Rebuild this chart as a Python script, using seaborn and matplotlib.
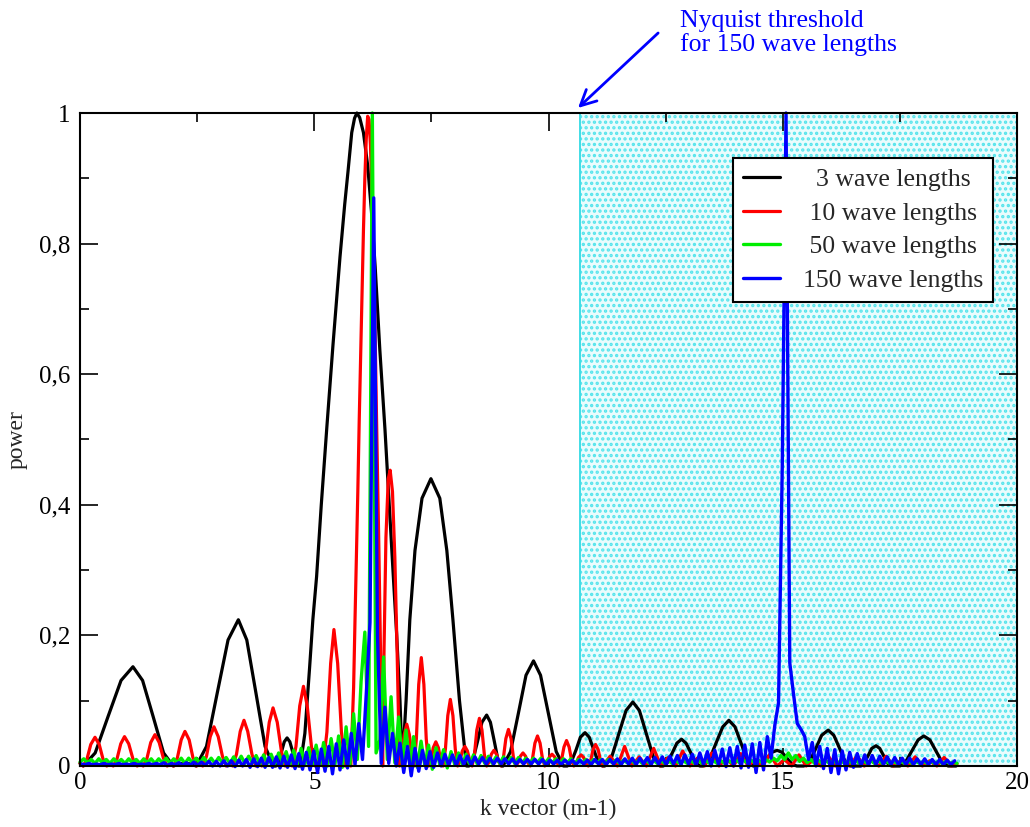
import numpy as np
import matplotlib
matplotlib.use("Agg")
import matplotlib.pyplot as plt
from matplotlib.ticker import MultipleLocator, FuncFormatter
import seaborn as sns

# ---------------- data ----------------
series_labels = ["  3 wave lengths", " 10 wave lengths", " 50 wave lengths", "150 wave lengths"]
x_ticks = [0, 5, 10, 15, 20]
y_ticks = [0, 0.2, 0.4, 0.6, 0.8, 1.0]
nyquist_k = 10.67

black_k = [0.00, 0.07, 0.324, 0.60, 0.876, 1.13, 1.336, 1.56, 1.784, 1.99,
           2.10, 2.25, 2.40,
           2.48, 2.70, 2.93, 3.16, 3.38, 3.56, 3.755, 3.95, 4.13,
           4.18, 4.24, 4.30, 4.36, 4.42, 4.48, 4.54, 4.60, 4.66,
           4.70, 4.80, 4.90, 4.97, 5.05, 5.15, 5.27, 5.40, 5.55, 5.65, 5.72, 5.80, 5.86, 5.91,
           5.97, 6.05, 6.14, 6.22, 6.30, 6.40, 6.51, 6.60, 6.68, 6.76, 6.83, 6.88,
           6.96, 7.04, 7.15, 7.30, 7.49, 7.68, 7.83, 7.96, 8.10, 8.25,
           8.30, 8.39, 8.49, 8.58, 8.68, 8.76, 8.84, 8.92, 9.00,
           9.03, 9.19, 9.355, 9.52, 9.68, 9.83, 10.00, 10.165, 10.32,
           10.40, 10.49, 10.59, 10.68, 10.78, 10.87, 10.965, 11.06, 11.15,
           11.20, 11.345, 11.50, 11.655, 11.80, 11.94, 12.09, 12.24, 12.38,
           12.45, 12.54, 12.645, 12.74, 12.84, 12.935, 13.035, 13.13, 13.23,
           13.30, 13.43, 13.575, 13.72, 13.85, 13.98, 14.11, 14.24, 14.37,
           14.45, 14.55, 14.665, 14.77, 14.88, 14.985, 15.09, 15.195, 15.30,
           15.45, 15.575, 15.71, 15.83, 15.97, 16.09, 16.21, 16.33, 16.45,
           16.65, 16.73, 16.82, 16.90, 16.99, 17.07, 17.155, 17.24, 17.32,
           17.50, 17.62, 17.755, 17.89, 18.01, 18.14, 18.27, 18.40, 18.53,
           18.70]
black_power = [0.004, 0.0, 0.020, 0.076, 0.131, 0.152, 0.131, 0.076, 0.020, 0.0,
               0.003, 0.005, 0.002,
               0.0, 0.030, 0.112, 0.193, 0.224, 0.193, 0.112, 0.030, 0.0,
               0.0, 0.006, 0.0215, 0.037, 0.043, 0.037, 0.0215, 0.006, 0.0,
               0.0, 0.050, 0.150, 0.224, 0.290, 0.400, 0.520, 0.645, 0.780, 0.860, 0.910, 0.970, 0.992, 1.0,
               0.993, 0.970, 0.920, 0.850, 0.765, 0.637, 0.515, 0.400, 0.300, 0.200, 0.100, 0.0,
               0.100, 0.224, 0.330, 0.410, 0.440, 0.410, 0.330, 0.224, 0.100, 0.0,
               0.0, 0.010, 0.039, 0.067, 0.078, 0.067, 0.039, 0.010, 0.0,
               0.0, 0.022, 0.080, 0.139, 0.161, 0.139, 0.080, 0.022, 0.0,
               0.0, 0.007, 0.025, 0.044, 0.051, 0.044, 0.025, 0.007, 0.0,
               0.0, 0.013, 0.049, 0.085, 0.098, 0.085, 0.049, 0.013, 0.0,
               0.0, 0.0055, 0.0205, 0.035, 0.041, 0.035, 0.0205, 0.0055, 0.0,
               0.0, 0.009, 0.035, 0.060, 0.070, 0.060, 0.035, 0.009, 0.0,
               0.0, 0.003, 0.012, 0.021, 0.024, 0.021, 0.012, 0.003, 0.0,
               0.0, 0.007, 0.0275, 0.047, 0.055, 0.047, 0.0275, 0.007, 0.0,
               0.0, 0.004, 0.0155, 0.027, 0.031, 0.027, 0.0155, 0.004, 0.0,
               0.0, 0.006, 0.023, 0.040, 0.046, 0.040, 0.023, 0.006, 0.0,
               0.0]

red_k = [0.00, 0.07, 0.15, 0.23, 0.32, 0.41, 0.49, 0.57, 0.64,
         0.71, 0.79, 0.87, 0.95, 1.04, 1.13, 1.22, 1.28,
         1.35, 1.43, 1.51, 1.60, 1.69, 1.78, 1.86, 1.93,
         2.00, 2.08, 2.16, 2.24, 2.33, 2.41, 2.49, 2.55,
         2.62, 2.70, 2.78, 2.86, 2.95, 3.04, 3.12, 3.19,
         3.26, 3.34, 3.42, 3.50, 3.58, 3.67, 3.75, 3.82,
         3.88, 3.96, 4.04, 4.12, 4.21, 4.30, 4.38, 4.45,
         4.53, 4.61, 4.69, 4.77, 4.85, 4.94, 5.02, 5.10,
         5.19, 5.27, 5.35, 5.42, 5.50, 5.58, 5.66, 5.72,
         5.78, 5.84, 5.87, 5.93, 5.96, 6.00, 6.05, 6.08, 6.11, 6.14, 6.17, 6.20, 6.24, 6.29, 6.33,
         6.38, 6.42, 6.46,
         6.49, 6.53, 6.58, 6.62, 6.67, 6.72, 6.77, 6.82,
         6.87, 6.92, 6.975, 7.03, 7.08, 7.13,
         7.18, 7.23, 7.285, 7.34, 7.39, 7.44,
         7.49, 7.54, 7.595, 7.65, 7.70, 7.75,
         7.80, 7.85, 7.905, 7.96, 8.01, 8.06,
         8.11, 8.16, 8.215, 8.27, 8.32, 8.37,
         8.42, 8.47, 8.525, 8.58, 8.63, 8.68,
         8.73, 8.78, 8.835, 8.89, 8.94, 8.99,
         9.04, 9.09, 9.145, 9.20, 9.25, 9.30,
         9.35, 9.40, 9.455, 9.51, 9.56, 9.61,
         9.66, 9.71, 9.765, 9.82, 9.87, 9.92,
         9.97, 10.02, 10.075, 10.13, 10.18, 10.23,
         10.28, 10.33, 10.385, 10.44, 10.49, 10.54,
         10.59, 10.64, 10.695, 10.75, 10.80, 10.85,
         10.90, 10.95, 11.005, 11.06, 11.11, 11.16,
         11.24, 11.315, 11.39, 11.47,
         11.55, 11.625, 11.70, 11.78,
         11.86, 11.935, 12.01, 12.09,
         12.17, 12.245, 12.32, 12.40,
         12.48, 12.555, 12.63, 12.71,
         12.79, 12.865, 12.94, 13.02,
         13.10, 13.175, 13.25, 13.33,
         13.41, 13.485, 13.56, 13.64,
         13.72, 13.795, 13.87, 13.95,
         14.03, 14.105, 14.18, 14.26,
         14.34, 14.415, 14.49, 14.57,
         14.65, 14.725, 14.80, 14.88,
         14.96, 15.035, 15.11, 15.19,
         15.27, 15.345, 15.42, 15.50,
         15.58, 15.655, 15.73, 15.81,
         15.89, 15.965, 16.04, 16.12,
         16.20, 16.275, 16.35, 16.43,
         16.51, 16.585, 16.66, 16.74,
         16.82, 16.895, 16.97, 17.05,
         17.13, 17.205, 17.28, 17.36,
         17.44, 17.515, 17.59, 17.67,
         17.75, 17.825, 17.90, 17.98,
         18.06, 18.135, 18.21, 18.29,
         18.37, 18.445, 18.52, 18.60,
         18.68, 18.72]
red_power = [0.004, 0.0, 0.011, 0.033, 0.044, 0.033, 0.011, 0.0, 0.003,
             0.0, 0.011, 0.034, 0.045, 0.034, 0.011, 0.0, 0.003,
             0.0, 0.012, 0.036, 0.048, 0.036, 0.012, 0.0, 0.003,
             0.0, 0.013, 0.040, 0.053, 0.040, 0.013, 0.0, 0.004,
             0.0, 0.015, 0.045, 0.060, 0.045, 0.015, 0.0, 0.004,
             0.0, 0.018, 0.053, 0.070, 0.053, 0.018, 0.0, 0.005,
             0.0, 0.022, 0.067, 0.089, 0.067, 0.022, 0.0, 0.006,
             0.0, 0.030, 0.092, 0.122, 0.092, 0.030, 0.0, 0.008,
             0.0, 0.052, 0.157, 0.209, 0.157, 0.052, 0.0, 0.010,
             0.0, 0.120, 0.224, 0.420, 0.530, 0.660, 0.820, 0.900, 0.960, 0.995, 0.990, 0.950, 0.850, 0.700, 0.530,
             0.330, 0.150, 0.0,
             0.180, 0.350, 0.440, 0.453, 0.420, 0.320, 0.170, 0.0,
             0.016, 0.048, 0.064, 0.048, 0.016, 0.0,
             0.042, 0.125, 0.166, 0.125, 0.042, 0.0,
             0.009, 0.028, 0.037, 0.028, 0.009, 0.0,
             0.026, 0.077, 0.102, 0.077, 0.026, 0.0,
             0.008, 0.023, 0.030, 0.023, 0.008, 0.0,
             0.018, 0.055, 0.073, 0.055, 0.018, 0.0,
             0.006, 0.018, 0.024, 0.018, 0.006, 0.0,
             0.014, 0.042, 0.056, 0.042, 0.014, 0.0,
             0.005, 0.015, 0.020, 0.015, 0.005, 0.0,
             0.012, 0.035, 0.046, 0.035, 0.012, 0.0,
             0.005, 0.014, 0.018, 0.014, 0.005, 0.0,
             0.010, 0.029, 0.039, 0.029, 0.010, 0.0,
             0.004, 0.013, 0.017, 0.013, 0.004, 0.0,
             0.008, 0.025, 0.033, 0.025, 0.008, 0.0,
             0.008, 0.015, 0.008, 0.0,
             0.015, 0.030, 0.015, 0.0,
             0.007, 0.014, 0.007, 0.0,
             0.014, 0.027, 0.014, 0.0,
             0.007, 0.013, 0.007, 0.0,
             0.012, 0.023, 0.012, 0.0,
             0.006, 0.012, 0.006, 0.0,
             0.010, 0.020, 0.010, 0.0,
             0.006, 0.011, 0.006, 0.0,
             0.010, 0.019, 0.010, 0.0,
             0.005, 0.010, 0.005, 0.0,
             0.009, 0.018, 0.009, 0.0,
             0.005, 0.010, 0.005, 0.0,
             0.009, 0.017, 0.009, 0.0,
             0.005, 0.009, 0.005, 0.0,
             0.008, 0.016, 0.008, 0.0,
             0.005, 0.009, 0.005, 0.0,
             0.008, 0.016, 0.008, 0.0,
             0.004, 0.008, 0.004, 0.0,
             0.008, 0.015, 0.008, 0.0,
             0.004, 0.008, 0.004, 0.0,
             0.007, 0.014, 0.007, 0.0,
             0.004, 0.008, 0.004, 0.0,
             0.007, 0.013, 0.007, 0.0,
             0.004, 0.003]

# 50 and 150 wave lengths: sampled on a regular k grid
green_k0, green_dk = 0.0, 0.08
green_power = [0.006, 0.011, 0.005, 0.010, 0.004, 0.011, 0.005, 0.010, 0.004, 0.011,
               0.005, 0.010, 0.004, 0.011, 0.005, 0.010, 0.004, 0.011, 0.005, 0.011,
               0.004, 0.011, 0.005, 0.012, 0.004, 0.011, 0.005, 0.012, 0.004, 0.012,
               0.005, 0.012, 0.004, 0.013, 0.005, 0.012, 0.004, 0.013, 0.005, 0.013,
               0.004, 0.014, 0.005, 0.015, 0.004, 0.015, 0.005, 0.016, 0.003, 0.017,
               0.004, 0.018, 0.003, 0.020, 0.004, 0.022, 0.002, 0.024, 0.003, 0.027,
               0.002, 0.028, 0.001, 0.032, 0.001, 0.036, 0.000, 0.042, 0.001, 0.046,
               -0.002, 0.060, 0.002, 0.080, 0.010, 0.130, 0.205, 0.030, 1.000, 0.020,
               0.040, 0.167, 0.010, 0.106, 0.005, 0.075, 0.003, 0.055, 0.001, 0.045,
               -0.002, 0.038, 0.001, 0.032, -0.005, 0.028, 0.002, 0.025, -0.003, 0.022,
               0.002, 0.020, 0.002, 0.018, 0.003, 0.017, 0.003, 0.016, 0.004, 0.015,
               0.004, 0.014, 0.004, 0.014, 0.005, 0.013, 0.004, 0.013, 0.005, 0.012,
               0.004, 0.012, 0.005, 0.012, 0.004, 0.011, 0.005, 0.011, 0.004, 0.011,
               0.005, 0.011, 0.004, 0.010, 0.005, 0.010, 0.004, 0.010, 0.005, 0.010,
               0.004, 0.010, 0.005, 0.009, 0.004, 0.009, 0.005, 0.009, 0.004, 0.009,
               0.004, 0.009, 0.004, 0.009, 0.004, 0.008, 0.004, 0.008, 0.004, 0.008,
               0.004, 0.008, 0.004, 0.008, 0.004, 0.008, 0.004, 0.008, 0.004, 0.008,
               0.004, 0.008, 0.004, 0.008, 0.005, 0.009, 0.005, 0.009, 0.005, 0.009,
               0.005, 0.009, 0.005, 0.010, 0.006, 0.012, 0.008, 0.016, 0.010, 0.020,
               0.010, 0.016, 0.007, 0.012, 0.005, 0.010, 0.004, 0.009, 0.004, 0.008,
               0.004, 0.008, 0.004, 0.008, 0.004, 0.008, 0.004, 0.008, 0.004, 0.008,
               0.004, 0.008, 0.004, 0.008, 0.004, 0.007, 0.004, 0.007, 0.004, 0.007,
               0.004, 0.007, 0.004, 0.007, 0.004, 0.007, 0.004, 0.007, 0.004, 0.007,
               0.004, 0.007, 0.004, 0.006, 0.004]

blue_k0, blue_dk = 0.03, 0.08
blue_power = [0.003, 0.002, 0.004, 0.002, 0.003, 0.002, 0.004, 0.002, 0.003, 0.002,
              0.004, 0.002, 0.003, 0.002, 0.004, 0.002, 0.003, 0.002, 0.004, 0.002,
              0.004, 0.002, 0.005, 0.001, 0.004, 0.002, 0.005, 0.001, 0.005, 0.001,
              0.006, 0.001, 0.006, 0.001, 0.007, 0.000, 0.007, 0.000, 0.008, 0.000,
              0.008, -0.001, 0.009, 0.000, 0.010, -0.002, 0.011, -0.001, 0.012, -0.002,
              0.013, -0.002, 0.014, -0.003, 0.015, -0.002, 0.017, -0.004, 0.019, -0.005,
              0.021, -0.006, 0.023, -0.010, 0.026, -0.008, 0.030, -0.012, 0.034, -0.006,
              0.040, -0.003, 0.050, 0.002, 0.065, 0.010, 0.110, 0.220, 0.870, 0.200,
              0.004, 0.090, 0.004, 0.050, 0.000, 0.035, -0.010, 0.030, -0.015, 0.027,
              -0.008, 0.024, -0.004, 0.022, -0.002, 0.020, 0.000, 0.018, 0.001, 0.017,
              0.001, 0.016, 0.002, 0.015, 0.002, 0.014, 0.003, 0.013, 0.003, 0.012,
              0.003, 0.012, 0.003, 0.011, 0.003, 0.011, 0.003, 0.010, 0.003, 0.010,
              0.003, 0.010, 0.003, 0.010, 0.002, 0.009, 0.003, 0.009, 0.002, 0.009,
              0.003, 0.009, 0.002, 0.009, 0.003, 0.009, 0.002, 0.010, 0.003, 0.010,
              0.002, 0.010, 0.003, 0.011, 0.002, 0.011, 0.003, 0.012, 0.002, 0.012,
              0.003, 0.013, 0.002, 0.013, 0.003, 0.014, 0.002, 0.015, 0.003, 0.016,
              0.002, 0.017, 0.003, 0.018, 0.001, 0.020, 0.002, 0.022, 0.000, 0.024,
              0.002, 0.026, -0.001, 0.028, 0.000, 0.030, -0.003, 0.032, -0.002, 0.034,
              -0.010, 0.036, -0.006, 0.045, 0.012, 0.062, 0.097, 0.460, 1.000, 0.158,
              0.110, 0.065, 0.056, 0.045, 0.010, 0.036, 0.000, 0.030, -0.004, 0.027,
              -0.010, 0.025, -0.012, 0.023, -0.006, 0.021, -0.002, 0.019, 0.000, 0.017,
              0.001, 0.016, 0.002, 0.015, 0.002, 0.014, 0.002, 0.013, 0.002, 0.012,
              0.002, 0.012, 0.002, 0.011, 0.002, 0.011, 0.002, 0.010, 0.002, 0.010,
              0.002, 0.009, 0.002, 0.008]

assert len(black_k) == len(black_power)
assert len(red_k) == len(red_power)
green_k = green_k0 + green_dk * np.arange(len(green_power))
blue_k = blue_k0 + blue_dk * np.arange(len(blue_power))

# ---------------- style ----------------
sns.set_style("ticks")
plt.rcParams['font.family'] = ['Liberation Serif', 'DejaVu Serif']
plt.rcParams['hatch.linewidth'] = 1.6

fig = plt.figure(figsize=(10.30, 8.27), dpi=100)
ax = fig.add_axes([80 / 1030, 1 - 766 / 827, 937 / 1030, 653 / 827])

# Nyquist region
ax.fill_between([nyquist_k, 20], 0, 1, facecolor='#eafcfd', edgecolor='#55e4ec',
                hatch='...', linewidth=0, zorder=0)
ax.axvline(nyquist_k, color='#40dde6', lw=1.4, zorder=0.5)

colors = ['#000000', '#ff0000', '#00ee00', '#0000ff']
sns.lineplot(x=black_k, y=black_power, ax=ax, color=colors[0], lw=2.3,
             estimator=None, sort=False, clip_on=False, zorder=2)
sns.lineplot(x=red_k, y=red_power, ax=ax, color=colors[1], lw=2.3,
             estimator=None, sort=False, clip_on=False, zorder=3)
sns.lineplot(x=green_k, y=green_power, ax=ax, color=colors[2], lw=2.4,
             estimator=None, sort=False, clip_on=False, zorder=4)
sns.lineplot(x=blue_k, y=blue_power, ax=ax, color=colors[3], lw=2.4,
             estimator=None, sort=False, clip_on=False, zorder=5)

ax.set_xlim(0, 20)
ax.set_ylim(0, 1)
ax.set_xticks(x_ticks)
ax.set_yticks(y_ticks)
ax.xaxis.set_minor_locator(MultipleLocator(2.5))
ax.yaxis.set_minor_locator(MultipleLocator(0.1))
ax.yaxis.set_major_formatter(FuncFormatter(lambda v, _: ('%g' % round(v, 2)).replace('.', ',')))
ax.xaxis.set_major_formatter(FuncFormatter(lambda v, _: '%g' % v))
ax.tick_params(which='both', direction='in', top=True, right=True, width=1.2, colors='black')
ax.tick_params(which='major', length=13, labelsize=18)
ax.tick_params(which='minor', length=6.5)
ax.tick_params(axis='x', which='major', pad=4)
ax.tick_params(axis='y', which='major', pad=7)
for s in ax.spines.values():
    s.set_linewidth(1.5)
    s.set_color('black')
    s.set_zorder(6)

ax.set_xlabel('k vector (m-1)', fontsize=17, labelpad=4)
ax.set_ylabel('power', fontsize=17, labelpad=8)

# legend
handles = ax.get_lines()[1:5]
leg = ax.legend(handles, series_labels, loc='upper left', bbox_to_anchor=(0.697, 0.931),
                fontsize=18.5, frameon=True, fancybox=False, framealpha=1, edgecolor='black',
                handlelength=1.45, handletextpad=0.9, borderpad=0.38, labelspacing=0.42,
                borderaxespad=0)
leg.get_frame().set_linewidth(1.5)
leg.set_zorder(10)

# annotation
ax.annotate('', xy=(10.63, 1.0077), xytext=(12.34, 1.1225),
            arrowprops=dict(arrowstyle='->', color='#0000ff', lw=2, shrinkA=0, shrinkB=0,
                            mutation_scale=28),
            annotation_clip=False)
ax.text(12.81, 1.1225, 'Nyquist threshold\nfor 150 wave lengths', color='#0000ff',
        fontsize=18.5, ha='left', va='center', linespacing=1.1, clip_on=False)

fig.savefig('out.png', dpi=100)
